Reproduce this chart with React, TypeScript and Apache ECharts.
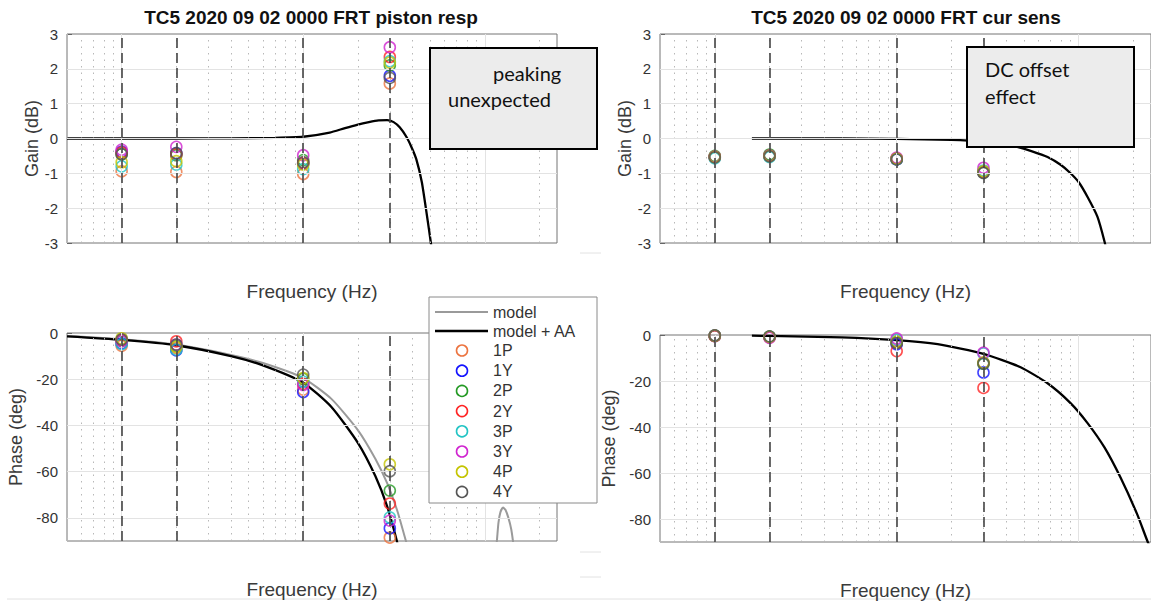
import React, { useEffect, useRef } from 'react';
import * as echarts from 'echarts';

// ---------------- data ----------------
const FREQS = [0.1, 0.2, 1, 3];
const CHANNELS = ['1P', '1Y', '2P', '2Y', '3P', '3Y', '4P', '4Y'];
const CHANNEL_COLORS = ['#ec7440', '#1414ff', '#249a24', '#ff2424', '#22c4c4', '#d024d0', '#c4c400', '#555555'];

const TITLES = ['TC5 2020 09 02 0000 FRT piston resp', 'TC5 2020 09 02 0000 FRT cur sens'];
const X_NAME = 'Frequency (Hz)';
const GAIN_NAME = 'Gain (dB)';
const PHASE_NAME = 'Phase (deg)';
const MODEL_NAMES = ['model', 'model + AA'];
const GAIN_TICKS = [-3, -2, -1, 0, 1, 2, 3];
const PHASE_TICKS = [-80, -60, -40, -20, 0];
const X_MIN = 0.05;
const X_MAX = 25;

// measured points, per channel, at FREQS
const PISTON_GAIN = [
  [-0.94, -0.96, -1.02, 1.58],
  [-0.38, -0.42, -0.72, 1.8],
  [-0.45, -0.48, -0.62, 2.1],
  [-0.4, -0.45, -0.7, 2.34],
  [-0.8, -0.75, -0.88, 2.22],
  [-0.32, -0.24, -0.48, 2.62],
  [-0.68, -0.65, -0.75, 2.18],
  [-0.45, -0.42, -0.68, 1.74],
];
const PISTON_PHASE = [
  [-5.5, -6.5, -24.5, -88.5],
  [-4.5, -7.5, -25.5, -84.5],
  [-3.5, -5.5, -19.8, -68.2],
  [-3.0, -3.6, -22.0, -73.8],
  [-4.8, -7.2, -21.0, -79.8],
  [-3.5, -5.0, -22.5, -81.2],
  [-2.3, -6.0, -19.5, -56.8],
  [-2.8, -5.0, -18.0, -59.8],
];
const CUR_GAIN = [
  [-0.52, -0.48, -0.58, -0.95],
  [-0.54, -0.5, -0.6, -0.97],
  [-0.5, -0.46, -0.57, -0.98],
  [-0.53, -0.5, -0.59, -0.96],
  [-0.57, -0.53, -0.6, -0.92],
  [-0.52, -0.49, -0.55, -0.84],
  [-0.53, -0.5, -0.58, -0.94],
  [-0.54, -0.51, -0.6, -0.99],
];
const CUR_PHASE = [
  [-0.3, -0.8, -3.5, -12.0],
  [-0.4, -0.9, -4.0, -16.3],
  [-0.3, -0.7, -3.0, -12.5],
  [-0.5, -1.0, -7.0, -23.0],
  [-0.2, -0.8, -2.0, -8.0],
  [-0.3, -1.2, -1.5, -7.7],
  [-0.3, -0.8, -3.0, -12.0],
  [-0.2, -0.6, -3.5, -12.4],
];

// model curves [frequency, value]
const PISTON_GAIN_AA = [
  [0.05, 0], [0.1, 0], [0.2, 0], [0.4, 0.005], [0.7, 0.02], [1.0, 0.05], [1.4, 0.17], [1.7, 0.3],
  [2.0, 0.4], [2.3, 0.47], [2.6, 0.52], [2.9, 0.53], [3.15, 0.47], [3.4, 0.32], [3.7, 0.05],
  [3.95, -0.25], [4.2, -0.6], [4.5, -1.25], [4.8, -2.2], [5.05, -3.0], [5.3, -3.9],
];
const PISTON_PHASE_MODEL = [
  [0.05, -1.3], [0.1, -2.7], [0.2, -5], [0.4, -9.5], [0.6, -13], [1.0, -19.5], [1.43, -28.5],
  [2.0, -42], [2.5, -54.5], [2.9, -65], [3.3, -77], [3.68, -90], [4.0, -100], [8.0, -160],
  [11.3, -100], [11.66, -90], [11.9, -82], [12.2, -77.5], [12.6, -75.5], [13.0, -76.5],
  [13.5, -80], [14.0, -85], [14.3, -90], [14.6, -96], [20, -160], [25, -175],
];
const PISTON_PHASE_AA = [
  [0.05, -1.5], [0.1, -3], [0.2, -5.3], [0.4, -10], [0.6, -14], [1.0, -21.5], [1.43, -32],
  [2.0, -47.5], [2.5, -62], [2.9, -75], [3.28, -90], [3.5, -100],
];
const CUR_GAIN_AA = [
  [0.16, 0], [0.5, 0], [1.0, -0.01], [2.0, -0.04], [3.0, -0.09], [4.0, -0.17], [4.6, -0.24],
  [5.5, -0.36], [6.75, -0.53], [8.0, -0.76], [9.0, -0.99], [10.0, -1.25], [11.2, -1.68],
  [12.7, -2.25], [13.9, -2.97], [14.3, -3.3],
];
const CUR_PHASE_AA = [
  [0.16, -0.3], [0.2, -0.4], [0.5, -1.0], [1.0, -2.2], [1.68, -4.0], [3, -8.2], [4.8, -14],
  [6.75, -21], [9, -29.5], [11.2, -38.3], [13.9, -49], [17, -62], [21, -78], [24, -90], [26, -96],
];

const NOTE_PEAK = ['peaking', 'unexpected'];
const NOTE_DC = ['DC offset', 'effect'];

// ---------------- layout / style ----------------
const FONT = '"Liberation Sans", Arial, Helvetica, sans-serif';
const NOTE_FONT = 'Lato, "Open Sans", sans-serif';
const GRIDS = [
  { left: 67, top: 34, width: 490, height: 209 },
  { left: 67, top: 333, width: 490, height: 208 },
  { left: 660, top: 34, width: 493, height: 209 },
  { left: 660, top: 335, width: 493, height: 207 },
];

function minorX(): number[] {
  const out: number[] = [];
  [0.01, 0.1, 1, 10].forEach((dec) => {
    for (let m = 2; m <= 9; m++) {
      const v = +(m * dec).toPrecision(3);
      if (v >= X_MIN - 1e-9 && v < X_MAX) out.push(v);
    }
  });
  return out;
}

function gridLines(isGain: boolean) {
  const data: any[] = [];
  const minorStyle = { color: '#b8b8b8', type: [1.5, 5], width: 1 };
  const majorStyle = { color: '#e3e3e3', type: 'solid', width: 1 };
  minorX().forEach((v) => data.push({ xAxis: v, lineStyle: minorStyle }));
  [0.1, 1, 10].forEach((v) => data.push({ xAxis: v, lineStyle: majorStyle }));
  const majors = isGain ? GAIN_TICKS.slice(1, -1) : PHASE_TICKS.slice(0, -1);
  majors.forEach((v) => data.push({ yAxis: v, lineStyle: majorStyle }));
  FREQS.forEach((v) =>
    data.push({ xAxis: v, lineStyle: { color: '#444', type: [10, 5], width: 1.6 } })
  );
  return data;
}

export default function App() {
  const ref = useRef<HTMLDivElement>(null);
  useEffect(() => {
    if (!ref.current) return;
    const chart = echarts.init(ref.current, undefined, { renderer: 'svg' });

    const gainFlags = [true, false, true, false];
    const measured = [PISTON_GAIN, PISTON_PHASE, CUR_GAIN, CUR_PHASE];

    const xAxis = GRIDS.map((_, g) => ({
      type: 'log',
      logBase: 10,
      gridIndex: g,
      min: X_MIN,
      max: X_MAX,
      axisLabel: { show: false },
      axisTick: { show: false },
      axisLine: { show: false },
      splitLine: { show: false },
      name: X_NAME,
      nameLocation: 'middle',
      nameGap: 39,
      nameTextStyle: { fontSize: 19, color: '#3a3a3a', fontFamily: FONT },
    }));

    const yGaps = [22, 42, 22, 42];
    const yAxis = GRIDS.map((_, g) => {
      const isGain = gainFlags[g];
      const base: any = {
        type: 'value',
        gridIndex: g,
        axisLine: { show: false },
        splitLine: { show: false },
        name: isGain ? GAIN_NAME : PHASE_NAME,
        nameLocation: 'middle',
        nameGap: yGaps[g],
        nameTextStyle: { fontSize: 18, color: '#3a3a3a', fontFamily: FONT },
        axisLabel: { fontSize: 15, color: '#333', fontFamily: FONT, margin: 9 },
        axisTick: { show: true, inside: true, length: 5, lineStyle: { color: '#666' } },
      };
      if (isGain) {
        base.min = GAIN_TICKS[0];
        base.max = GAIN_TICKS[GAIN_TICKS.length - 1];
        base.interval = 1;
      } else {
        base.min = -90;
        base.max = 0;
        base.axisLabel.customValues = PHASE_TICKS;
        base.axisTick.customValues = PHASE_TICKS;
      }
      return base;
    });

    const series: any[] = [];
    GRIDS.forEach((_, g) => {
      series.push({
        type: 'line',
        xAxisIndex: g,
        yAxisIndex: g,
        data: [],
        silent: true,
        z: 1,
        markLine: {
          silent: true,
          symbol: ['none', 'none'],
          label: { show: false },
          emphasis: { disabled: true },
          data: gridLines(gainFlags[g]),
        },
      });
    });

    const curve = (g: number, data: number[][], color: string, width: number, name: string) => ({
      type: 'line',
      name,
      xAxisIndex: g,
      yAxisIndex: g,
      data,
      showSymbol: false,
      symbol: 'none',
      smooth: 0.2,
      clip: true,
      z: 3,
      lineStyle: { color, width },
      silent: true,
    });
    series.push(curve(0, PISTON_GAIN_AA, '#000', 2.3, MODEL_NAMES[1]));
    series.push(curve(1, PISTON_PHASE_MODEL, '#9a9a9a', 2, MODEL_NAMES[0]));
    series.push(curve(1, PISTON_PHASE_AA, '#000', 2.3, MODEL_NAMES[1]));
    series.push(curve(2, CUR_GAIN_AA, '#000', 2.3, MODEL_NAMES[1]));
    series.push(curve(3, CUR_PHASE_AA, '#000', 2.3, MODEL_NAMES[1]));

    GRIDS.forEach((_, g) => {
      CHANNELS.forEach((ch, c) => {
        series.push({
          type: 'scatter',
          name: ch,
          xAxisIndex: g,
          yAxisIndex: g,
          data: FREQS.map((f, i) => [f, measured[g][c][i]]),
          symbol: 'circle',
          symbolSize: 11,
          z: 4,
          silent: true,
          itemStyle: { color: 'rgba(0,0,0,0)', borderColor: CHANNEL_COLORS[c], borderWidth: 1.6 },
        });
      });
    });

    const Z = 100;
    // legend + notes as graphics
    const legendChildren: any[] = [
      { type: 'rect', z: Z, shape: { x: 429, y: 297, width: 168, height: 206 }, style: { fill: '#fff', stroke: '#8a8a8a', lineWidth: 1 } },
      { type: 'line', z: Z + 1, shape: { x1: 435, y1: 312, x2: 488, y2: 312 }, style: { stroke: '#9a9a9a', lineWidth: 2 } },
      { type: 'line', z: Z + 1, shape: { x1: 435, y1: 331, x2: 488, y2: 331 }, style: { stroke: '#000', lineWidth: 2.5 } },
      { type: 'text', z: Z + 1, x: 493, y: 312, style: { text: MODEL_NAMES[0], fill: '#333', font: `16px ${FONT}`, verticalAlign: 'middle' } },
      { type: 'text', z: Z + 1, x: 493, y: 331, style: { text: MODEL_NAMES[1], fill: '#333', font: `16px ${FONT}`, verticalAlign: 'middle' } },
    ];
    CHANNELS.forEach((ch, c) => {
      const cy = 350.5 + c * 20.2;
      legendChildren.push({ type: 'circle', z: Z + 1, shape: { cx: 462, cy, r: 5.5 }, style: { fill: 'none', stroke: CHANNEL_COLORS[c], lineWidth: 1.6 } });
      legendChildren.push({ type: 'text', z: Z + 1, x: 493, y: cy, style: { text: ch, fill: '#333', font: `16px ${FONT}`, verticalAlign: 'middle' } });
    });

    const noteBox = (x: number, y: number, w: number, h: number) => ({
      type: 'rect', z: Z, shape: { x, y, width: w, height: h }, style: { fill: '#ececec', stroke: '#000', lineWidth: 2 },
    });
    const noteText = (x: number, y: number, text: string) => ({
      type: 'text', z: Z + 1, x, y, style: { text, fill: '#111', font: `20px ${NOTE_FONT}`, verticalAlign: 'middle' },
    });

    const artifacts = [
      { type: 'line', shape: { x1: 7, y1: 599, x2: 1151, y2: 599 }, style: { stroke: '#e2e2e2', lineWidth: 1 } },
      { type: 'line', shape: { x1: 580, y1: 253, x2: 601, y2: 253 }, style: { stroke: '#e2e2e2', lineWidth: 1 } },
      { type: 'line', shape: { x1: 580, y1: 552, x2: 601, y2: 552 }, style: { stroke: '#e2e2e2', lineWidth: 1 } },
      { type: 'line', shape: { x1: 580, y1: 577, x2: 601, y2: 577 }, style: { stroke: '#e2e2e2', lineWidth: 1 } },
    ];

    chart.setOption({
      animation: false,
      backgroundColor: '#fff',
      textStyle: { fontFamily: FONT },
      title: [
        { text: TITLES[0], left: 311, top: 8, textAlign: 'center', padding: 0, textStyle: { fontSize: 19, fontWeight: 'bold', color: '#111', fontFamily: FONT } },
        { text: TITLES[1], left: 906, top: 8, textAlign: 'center', padding: 0, textStyle: { fontSize: 19, fontWeight: 'bold', color: '#111', fontFamily: FONT } },
      ],
      grid: GRIDS.map((p) => ({ ...p, show: true, borderColor: '#747474', borderWidth: 1, backgroundColor: 'transparent', containLabel: false })),
      xAxis,
      yAxis,
      series,
      graphic: [
        ...artifacts,
        ...legendChildren,
        noteBox(430, 48, 167, 101), noteText(493, 73, NOTE_PEAK[0]), noteText(448, 99, NOTE_PEAK[1]),
        noteBox(967, 47, 167, 100), noteText(985, 69, NOTE_DC[0]), noteText(985, 96, NOTE_DC[1]),
      ],
    });
    return () => chart.dispose();
  }, []);
  return (
    <div
      ref={ref}
      style={{ position: 'fixed', left: 0, top: 0, width: 1151, height: 602, background: '#fff' }}
    />
  );
}
